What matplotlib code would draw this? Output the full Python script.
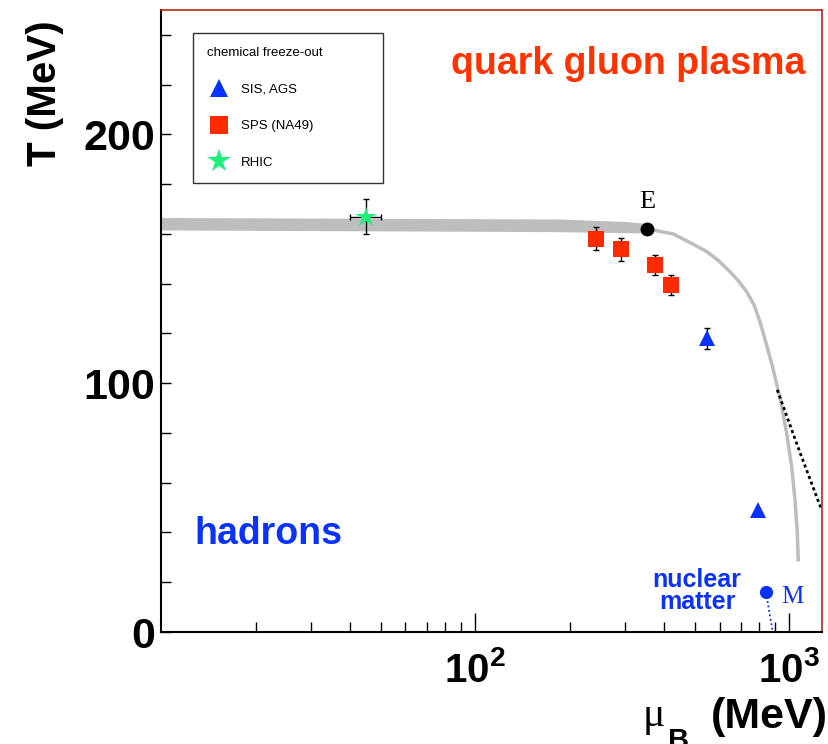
import matplotlib

matplotlib.use("Agg")
import matplotlib.pyplot as plt
import numpy as np

plt.rcParams["font.family"] = ["Liberation Sans", "DejaVu Sans"]
plt.rcParams["mathtext.fontset"] = "custom"
plt.rcParams["mathtext.rm"] = "Liberation Sans"
plt.rcParams["mathtext.bf"] = "Liberation Sans:bold"

RED = "#ff2a00"
BLUE = "#0a32ff"
GREEN = "#1ef07a"
GREY = "#bdbdbd"

# chemical freeze-out points (mu_B, T, error) in MeV
sis_mu = [546, 796]
sis_T = [118.0, 49.0]
sis_err = [4.3, 0.0]

sps_mu = [242, 292, 373, 420]
sps_T = [158.0, 153.8, 147.6, 139.6]
sps_err = [4.6, 4.5, 4.0, 4.0]

rhic_mu = [45]
rhic_T = [167]
rhic_xerr = [5]
rhic_yerr = [7]

# crossover band, from mu_B = 10 up to the critical end point
band_mu = [10, 186, 300, 353]
band_hi = [166.6, 166.0, 165.0, 164.2]
band_lo = [161.6, 160.9, 160.5, 160.4]

# first-order transition line starting at E
crit_mu = [353, 388, 427, 483, 546, 597, 647, 691, 731, 772, 806, 826, 855, 884,
           937, 980, 1017, 1042, 1060, 1067]
crit_T = [162.1, 161.0, 160.0, 156.5, 152.9, 149.1, 144.8, 140.9, 136.8, 131.4, 124.7,
          120.1, 113.3, 106.6, 93.2, 79.9, 66.4, 53.1, 39.7, 28.3]

# dashed branch on the right
dash_mu = [915, 1073, 1261]
dash_T = [97.3, 73.2, 49.7]

end_point = (353, 162.1)
nuclear_mu = [842, 885]
nuclear_T = [16.0, 0.0]

fig = plt.figure(figsize=(8.29, 7.44), dpi=100)
ax = fig.add_axes([161 / 829, 1 - 632 / 744, 661 / 829, 622 / 744])
ax.set_xscale("log")
ax.set_xlim(10, 1270)
ax.set_ylim(0, 250)

ax.fill_between(band_mu, band_lo, band_hi, color=GREY, lw=0, zorder=1)
ax.plot(crit_mu, crit_T, color=GREY, lw=2.5, solid_capstyle="butt", solid_joinstyle="round", zorder=1)
ax.plot(dash_mu, dash_T, color="black", lw=2.0, ls=(0, (1.1, 1.1)), zorder=2)
ax.plot(nuclear_mu, nuclear_T, color=BLUE, lw=1.3, ls=(0, (1, 1.5)), zorder=2)
ax.plot([nuclear_mu[0]], [nuclear_T[0]], "o", color=BLUE, ms=9.5, mew=0, zorder=4)
ax.plot([end_point[0]], [end_point[1]], "o", color="black", ms=10, mew=0, zorder=4)

ebar = dict(fmt="none", ecolor="black", elinewidth=1, capsize=2.5, capthick=1, zorder=3)
ax.errorbar(sis_mu, sis_T, yerr=sis_err, **ebar)
ax.errorbar(sps_mu, sps_T, yerr=sps_err, **ebar)
ax.errorbar(rhic_mu, rhic_T, xerr=rhic_xerr, yerr=rhic_yerr, **ebar)

(h_sis,) = ax.plot(sis_mu, sis_T, ls="none", marker="^", ms=12, color=BLUE, mew=0, zorder=4)
(h_sps,) = ax.plot(sps_mu, sps_T, ls="none", marker="s", ms=12, color=RED, mew=0, zorder=4)
(h_rhic,) = ax.plot(rhic_mu, rhic_T, ls="none", marker="*", ms=16, color=GREEN, mew=0, zorder=4)

leg = ax.legend(
    handles=[h_sis, h_sps, h_rhic],
    labels=["SIS, AGS", "SPS (NA49)", "RHIC"],
    title="chemical freeze-out",
    loc="upper left",
    bbox_to_anchor=(0.0484, 0.963 - 0.233, 0.2874, 0.233),
    mode="expand",
    borderaxespad=0,
    fontsize=9.5,
    title_fontsize=9.5,
    alignment="left",
    fancybox=False,
    edgecolor="black",
    borderpad=1.05,
    labelspacing=1.85,
    handlelength=1.8,
    handletextpad=0.8,
    markerscale=1.1,
)
leg.get_frame().set_linewidth(1.0)

# region labels
ax.text(306, 224.3, "quark gluon plasma", color="#ff3300", fontsize=27, fontweight="bold",
        ha="center", va="baseline")
ax.text(12.8, 35.2, "hadrons", color=BLUE, fontsize=27, fontweight="bold", ha="left", va="baseline")
ax.text(508, 16.5, "nuclear\nmatter", color=BLUE, fontsize=18, fontweight="bold",
        ha="center", va="center", linespacing=0.9)
ax.text(end_point[0], 170.4, "E", color="black", fontsize=19, family="Liberation Serif",
        ha="center", va="baseline")
ax.text(945, 11.8, "M", color=BLUE, fontsize=18, family="Liberation Serif", ha="left", va="baseline")

# axes
ax.set_xticks([100, 1000])
ax.set_xticklabels([r"$\mathbf{10^{2}}$", r"$\mathbf{10^{3}}$"], fontsize=29)
ax.set_xticks([20, 30, 40, 50, 60, 70, 80, 90, 200, 300, 400, 500, 600, 700, 800, 900], minor=True)
ax.xaxis.set_minor_formatter(matplotlib.ticker.NullFormatter())
ax.set_yticks([0, 100, 200])
ax.set_yticklabels(["0", "100", "200"], fontsize=31, fontweight="bold")
ax.set_yticks(np.arange(20, 250, 20), minor=True)
ax.tick_params(axis="x", which="major", direction="in", length=14, width=1, pad=14, top=False)
ax.tick_params(axis="x", which="minor", direction="in", length=7.5, width=1, top=False)
ax.tick_params(axis="y", which="both", direction="in", length=7, width=1, pad=4, right=False)

for side in ("left", "bottom"):
    ax.spines[side].set_color("black")
    ax.spines[side].set_linewidth(1.5)
for side in ("top", "right"):
    ax.spines[side].set_color("#b52a10")
    ax.spines[side].set_linewidth(1.2)

fig.text(45 / 829, 1 - 93 / 744, "T (MeV)", rotation=90, fontsize=29, fontweight="bold",
         ha="center", va="center")
fig.text(828 / 829, 1 - 728 / 744, "(MeV)", fontsize=31, fontweight="bold", ha="right", va="baseline")
fig.text(643 / 829, 1 - 726 / 744, "\u03bc", fontsize=30, family="Liberation Serif",
         ha="left", va="baseline")
fig.text(668 / 829, 1 - 727 / 744, "B", fontsize=21, fontweight="bold", ha="left", va="top")

fig.savefig("out.png", dpi=100)
plt.close(fig)
